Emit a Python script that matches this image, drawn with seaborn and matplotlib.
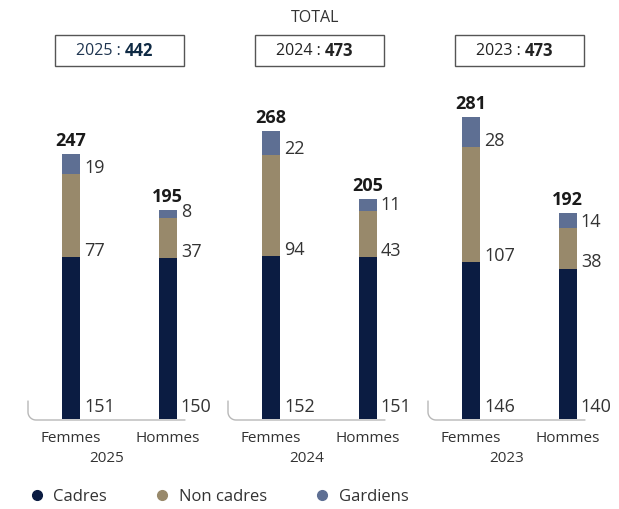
import numpy as np
import pandas as pd
import matplotlib.pyplot as plt
import seaborn as sns
from matplotlib.lines import Line2D
from matplotlib.patches import Rectangle

# Données
annees = ['2025', '2024', '2023']
genres = ['Femmes', 'Hommes']
cadres = {'2025': [151, 150], '2024': [152, 151], '2023': [146, 140]}
non_cadres = {'2025': [77, 37], '2024': [94, 43], '2023': [107, 38]}
gardiens = {'2025': [19, 8], '2024': [22, 11], '2023': [28, 14]}
totaux_annee = {'2025': 442, '2024': 473, '2023': 473}

c_cadres = '#0b1c42'
c_non = '#98896b'
c_gard = '#5e6f93'
c_txt = '#333333'

sns.set_style('white')
plt.rcParams['font.family'] = ['Open Sans', 'DejaVu Sans']

W, H = 619, 509
fig = plt.figure(figsize=(W / 100, H / 100), dpi=100)


def fx(px):
    return px / W


def fy(py):
    return 1 - py / H


panel_left = [28, 228, 428]
panel_w = 157
base_y = 419
top_y = 97
bw = 0.187

for k, annee in enumerate(annees):
    l = panel_left[k]
    ax = fig.add_axes([fx(l), fy(base_y), panel_w / W, (base_y - top_y) / H])
    df = pd.DataFrame({'Genre': genres,
                       'Cadres': cadres[annee],
                       'Non cadres': non_cadres[annee],
                       'Gardiens': gardiens[annee]})
    df['c1'] = df['Cadres']
    df['c2'] = df['Cadres'] + df['Non cadres']
    df['c3'] = df['c2'] + df['Gardiens']

    # barres empilées : du total vers le bas
    for col, colr in [('c3', c_gard), ('c2', c_non), ('c1', c_cadres)]:
        sns.barplot(data=df, x='Genre', y=col, order=genres, color=colr,
                    saturation=1, width=bw, linewidth=0, ax=ax)

    for i, row in df.iterrows():
        bases = [0, row['c1'], row['c2']]
        vals = [row['Cadres'], row['Non cadres'], row['Gardiens']]
        for j, (b, v) in enumerate(zip(bases, vals)):
            dy = 8.5 if j == 0 else 4.5
            ax.annotate(str(v), xy=(i + bw / 2, b), xytext=(3, dy),
                        textcoords='offset points', ha='left', va='center',
                        fontsize=13, color=c_txt)
        ax.annotate(str(row['c3']), xy=(i, row['c3']), xytext=(0, 3),
                    textcoords='offset points', ha='center', va='bottom',
                    fontsize=13, fontweight='bold', color='#1a1a1a')

    ax.set_xlim(-0.446, 1.18)
    ax.set_ylim(0, 300)
    ax.set_yticks([])
    ax.set_ylabel('')
    ax.set_xlabel(annee, fontsize=11, color=c_txt, labelpad=3)
    ax.tick_params(axis='x', length=0, labelsize=11, pad=9, labelcolor=c_txt)
    sns.despine(ax=ax, left=True, bottom=True)

    # axe arrondi
    r = 8
    th = np.linspace(np.pi, 1.5 * np.pi, 20)
    xs = [l, l] + list(l + r + r * np.cos(th)) + [l + panel_w]
    ys = [base_y - 18, base_y - r + 1] + list(base_y + 1 - r - r * np.sin(th)) + [base_y + 1]
    fig.add_artist(Line2D([fx(x) for x in xs], [fy(y) for y in ys],
                          transform=fig.transFigure, color='#b8b8b8', lw=1))

    # encadré total
    cx = l + 91.5
    fig.add_artist(Rectangle((fx(cx - 64.5), fy(66)), 129 / W, 31 / H,
                             transform=fig.transFigure, fill=False,
                             edgecolor='#555555', lw=1))
    fig.text(fx(cx + 1), fy(51), f'{annee} :', ha='right', va='center',
             fontsize=11.5, color='#1f3550' if k == 0 else '#222222')
    fig.text(fx(cx + 5), fy(51), str(totaux_annee[annee]), ha='left', va='center',
             fontsize=12, fontweight='bold', color='#0f2a44' if k == 0 else '#222222')

fig.text(fx(315), fy(18), 'TOTAL', ha='center', va='center', fontsize=11.5, color=c_txt)

handles = [Line2D([], [], marker='o', ls='', markersize=7, color=c)
           for c in [c_cadres, c_non, c_gard]]
fig.legend(handles, ['Cadres', 'Non cadres', 'Gardiens'], loc='center left',
           bbox_to_anchor=(fx(15), fy(497)), ncol=3, frameon=False, fontsize=12,
           handlelength=0.8, handletextpad=0.6, columnspacing=2.9,
           labelcolor=c_txt)

fig.savefig('out.png', dpi=100)
